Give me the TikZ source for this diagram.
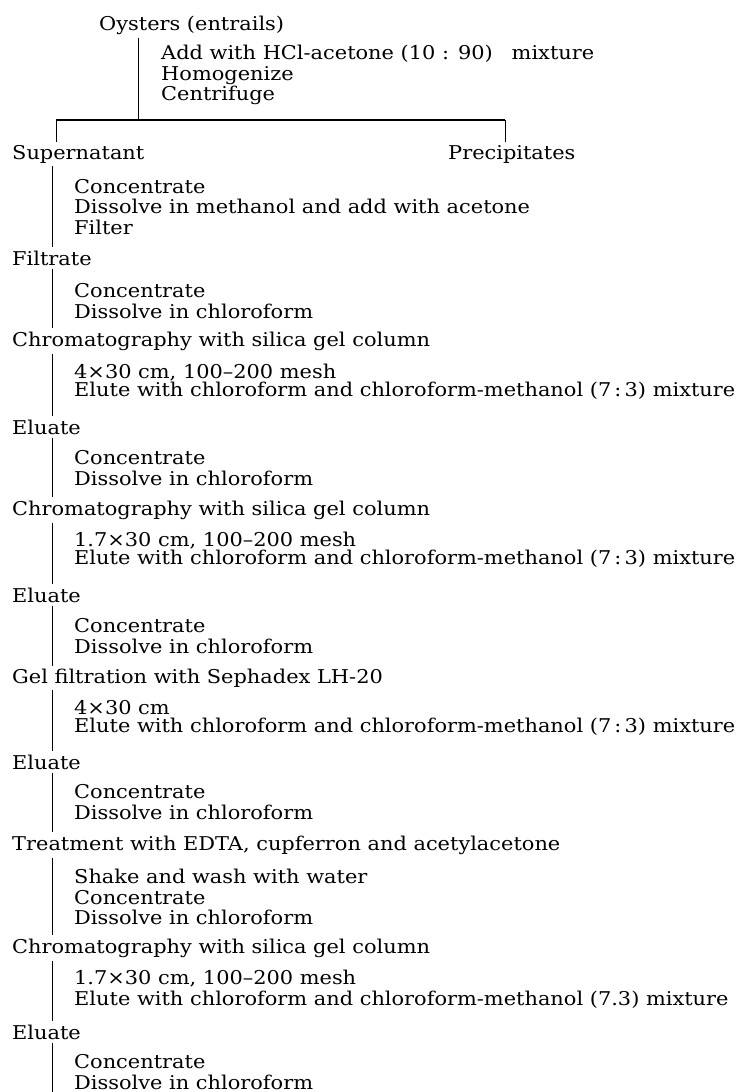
\documentclass[tikz,border=0pt]{standalone}
\usepackage{fontspec}
\setmainfont{DejaVu Serif}[FakeStretch=1.1]
\usepackage{tikz}

\begin{document}
\begin{tikzpicture}[x=1pt,y=-1pt,
  every node/.style={font=\fontsize{19}{20.5}\selectfont},
  stage/.style={anchor=west,inner xsep=0pt,inner ysep=3pt},
  ops/.style={anchor=west,align=left,inner sep=0pt},
  flow/.style={line width=0.8pt}]
\useasboundingbox (0,0) rectangle (749,1092);
% main stages
\node[stage] (oyst) at (99,25) {Oysters (entrails)};
\node[stage] (sup) at (12,154) {Supernatant};
\node[stage] (prec) at (448,154) {Precipitates};
\node[stage] (filt) at (12,258) {Filtrate};
\node[stage] (chrA) at (12,341) {Chromatography with silica gel column};
\node[stage] (eluA) at (12,427) {Eluate};
\node[stage] (chrB) at (12,510) {Chromatography with silica gel column};
\node[stage] (eluB) at (12,595) {Eluate};
\node[stage] (gel) at (12,678) {Gel filtration with Sephadex LH-20};
\node[stage] (eluC) at (12,762) {Eluate};
\node[stage] (treat) at (12,845) {Treatment with EDTA, cupferron and acetylacetone};
\node[stage] (chrC) at (12,948) {Chromatography with silica gel column};
\node[stage] (eluD) at (12,1032) {Eluate};
% operations
\node[ops] (opA) at (161,75) {Add with HCl-acetone (10 : 90)\quad mixture\\Homogenize\\Centrifuge};
\node[ops] (opB) at (74,207) {Concentrate\\Dissolve in methanol and add with acetone\\Filter};
\node[ops] (opC) at (74,301) {Concentrate\\Dissolve in chloroform};
\node[ops] (opD) at (74,382) {4×30 cm, 100--200 mesh\\[-2.5pt]Elute with chloroform and chloroform-methanol (7\,:\,3) mixture};
\node[ops] (opE) at (74,468) {Concentrate\\Dissolve in chloroform};
\node[ops] (opF) at (74,550) {1.7×30 cm, 100--200 mesh\\[-2.5pt]Elute with chloroform and chloroform-methanol (7\,:\,3) mixture};
\node[ops] (opG) at (74,636) {Concentrate\\Dissolve in chloroform};
\node[ops] (opH) at (74,718) {4×30 cm\\[-2.5pt]Elute with chloroform and chloroform-methanol (7\,:\,3) mixture};
\node[ops] (opI) at (74,802) {Concentrate\\Dissolve in chloroform};
\node[ops] (opJ) at (74,897) {Shake and wash with water\\Concentrate\\Dissolve in chloroform};
\node[ops] (opK) at (74,989) {1.7×30 cm, 100--200 mesh\\Elute with chloroform and chloroform-methanol (7.3) mixture};
\node[ops] (opL) at (74,1072) {Concentrate\\Dissolve in chloroform};
% split
\coordinate (spine) at (52,0);
\coordinate (split) at (138,120);
\coordinate (splitL) at (56,120);
\coordinate (splitR) at (505,120);
\coordinate (bottom) at (52,1092);
\draw[flow] (oyst.south -| split) -- (split);
\draw[flow,line width=1.2pt] (splitL) -- (splitR);
\draw[flow] (splitL) -- (sup.north -| splitL);
\draw[flow] (splitR) -- (prec.north -| splitR);
% spine
\foreach \a/\b in {sup/filt,filt/chrA,chrA/eluA,eluA/chrB,chrB/eluB,eluB/gel,gel/eluC,eluC/treat,treat/chrC,chrC/eluD}
  \draw[flow] (\a.south -| spine) -- (\b.north -| spine);
\draw[flow] (eluD.south -| spine) -- (bottom);
\end{tikzpicture}
\end{document}
